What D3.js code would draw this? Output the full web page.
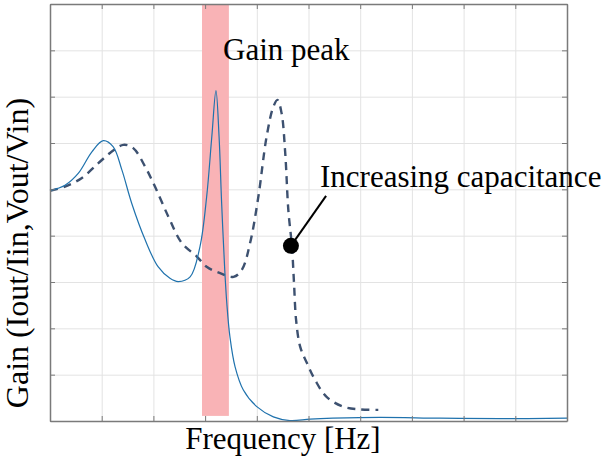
<!DOCTYPE html>
<html>
<head>
<meta charset="utf-8">
<script src="https://cdn.jsdelivr.net/npm/d3@7"></script>
<style>
  body { margin: 0; background: #fff; }
  svg { display: block; }
  .serif { font-family: "Liberation Serif", "Times New Roman", serif; fill: #000; }
</style>
</head>
<body>
<div id="chart"></div>
<script>
// Curves (x in grid units 0..10, y in grid units 0..9)
const solidX = [0, 0.29, 0.55, 0.81, 1.03, 1.22, 1.39, 1.58, 1.84, 2.09, 2.32, 2.48, 2.71, 2.90, 3.03, 3.13, 3.21, 3.27, 3.32, 3.38, 3.42, 3.48, 3.58, 3.74, 4.00, 4.32, 4.64, 5.03, 5.47, 6.38, 7.54, 8.70, 10];
const solidY = [4.97, 5.09, 5.35, 5.81, 6.05, 5.92, 5.42, 4.70, 3.91, 3.33, 3.08, 3.01, 3.11, 3.76, 4.84, 6.14, 7.13, 6.14, 4.70, 3.26, 2.54, 1.82, 1.17, 0.67, 0.31, 0.09, 0.01, 0.04, 0.06, 0.08, 0.06, 0.05, 0.06];

const dashX = [0, 0.29, 0.61, 0.93, 1.19, 1.42, 1.61, 1.84, 2.03, 2.29, 2.55, 2.84, 3.03, 3.29, 3.55, 3.71, 3.87, 4.03, 4.19, 4.32, 4.40, 4.48, 4.55, 4.61, 4.68, 4.72, 4.76, 4.84, 4.97, 5.13, 5.35, 5.67, 6.00, 6.35];
const dashY = [4.97, 5.06, 5.24, 5.56, 5.81, 5.96, 5.89, 5.49, 5.06, 4.41, 3.84, 3.55, 3.33, 3.19, 3.11, 3.26, 3.84, 4.84, 6.14, 6.78, 6.93, 6.64, 5.78, 4.55, 3.76, 2.97, 2.18, 1.60, 1.25, 0.88, 0.52, 0.31, 0.25, 0.24];

// Highlighted band (gain peak) and annotation
const bandX = [2.94, 3.46];
const bandY = [0.11, 9];
const markerPt = [4.66, 3.78];
const leaderEnd = [5.34, 4.86];

const xTicks = d3.range(0, 11);
const yTicks = d3.range(0, 10);

const W = 608, H = 461;
const m = { left: 50, right: 41, top: 4, bottom: 40 };

const svg = d3.select("#chart").append("svg")
    .attr("width", W)
    .attr("height", H);

const x = d3.scaleLinear().domain([0, 10]).range([m.left, W - m.right]);
const y = d3.scaleLinear().domain([0, 9]).range([H - m.bottom, m.top]);

// grid
svg.append("g")
    .attr("transform", `translate(0,${y(0)})`)
    .call(d3.axisBottom(x).tickValues(xTicks).tickSize(-(y(0) - y(9))).tickFormat(""))
    .call(g => g.select(".domain").remove())
    .call(g => g.selectAll("line").attr("stroke", "#e3e3e3").attr("stroke-width", 1));
svg.append("g")
    .attr("transform", `translate(${x(0)},0)`)
    .call(d3.axisLeft(y).tickValues(yTicks).tickSize(-(x(10) - x(0))).tickFormat(""))
    .call(g => g.select(".domain").remove())
    .call(g => g.selectAll("line").attr("stroke", "#e3e3e3").attr("stroke-width", 1));

// band
svg.append("rect")
    .attr("x", x(bandX[0]))
    .attr("y", y(bandY[1]))
    .attr("width", x(bandX[1]) - x(bandX[0]))
    .attr("height", y(bandY[0]) - y(bandY[1]))
    .attr("fill", "#f9b3b6");

// curves
const line = d3.line()
    .x(d => x(d[0]))
    .y(d => y(d[1]))
    .curve(d3.curveCatmullRom.alpha(0.5));

svg.append("path")
    .datum(dashX.map((v, i) => [v, dashY[i]]))
    .attr("d", line)
    .attr("fill", "none")
    .attr("stroke", "#3d5170")
    .attr("stroke-width", 2.4)
    .attr("stroke-dasharray", "8,6");

svg.append("path")
    .datum(solidX.map((v, i) => [v, solidY[i]]))
    .attr("d", line)
    .attr("fill", "none")
    .attr("stroke", "#1f72ad")
    .attr("stroke-width", 1.2);

// axes box with inward ticks on all sides
const tick = 5;
const axStyle = g => {
    g.select(".domain").attr("stroke", "#7a7a7a").attr("stroke-width", 1.5);
    g.selectAll(".tick line").attr("stroke", "#7a7a7a");
};
svg.append("g").attr("transform", `translate(0,${y(0)})`)
    .call(d3.axisBottom(x).tickValues(xTicks).tickSizeInner(-tick).tickSizeOuter(0).tickFormat(""))
    .call(axStyle);
svg.append("g").attr("transform", `translate(0,${y(9)})`)
    .call(d3.axisTop(x).tickValues(xTicks).tickSizeInner(-tick).tickSizeOuter(0).tickFormat(""))
    .call(axStyle);
svg.append("g").attr("transform", `translate(${x(0)},0)`)
    .call(d3.axisLeft(y).tickValues(yTicks).tickSizeInner(-tick).tickSizeOuter(0).tickFormat(""))
    .call(axStyle);
svg.append("g").attr("transform", `translate(${x(10)},0)`)
    .call(d3.axisRight(y).tickValues(yTicks).tickSizeInner(-tick).tickSizeOuter(0).tickFormat(""))
    .call(axStyle);

// annotation
svg.append("line")
    .attr("x1", x(markerPt[0])).attr("y1", y(markerPt[1]))
    .attr("x2", x(leaderEnd[0])).attr("y2", y(leaderEnd[1]))
    .attr("stroke", "#000")
    .attr("stroke-width", 2);
svg.append("circle")
    .attr("cx", x(markerPt[0]))
    .attr("cy", y(markerPt[1]))
    .attr("r", 8)
    .attr("fill", "#000");

svg.append("text").attr("class", "serif")
    .attr("x", 223).attr("y", 60)
    .attr("font-size", 31)
    .text("Gain peak");
svg.append("text").attr("class", "serif")
    .attr("x", 320).attr("y", 187)
    .attr("font-size", 31)
    .text("Increasing capacitance");

// axis labels
svg.append("text").attr("class", "serif")
    .attr("x", 283).attr("y", 449)
    .attr("text-anchor", "middle")
    .attr("font-size", 31)
    .text("Frequency [Hz]");
svg.append("text").attr("class", "serif")
    .attr("transform", "translate(28,253) rotate(-90)")
    .attr("text-anchor", "middle")
    .attr("font-size", 32)
    .text("Gain (Iout/Iin,Vout/Vin)");
</script>
</body>
</html>
